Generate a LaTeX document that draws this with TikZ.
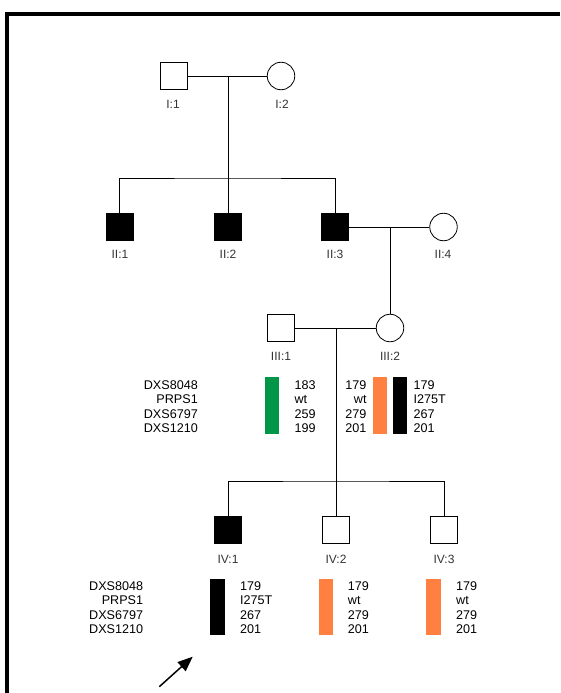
\documentclass[tikz,border=0pt]{standalone}
\usepackage{fontspec}
\setmainfont{Liberation Sans}
\usetikzlibrary{arrows.meta}
\definecolor{hapgreen}{RGB}{0,150,72}
\definecolor{haporange}{RGB}{255,128,64}

\begin{document}
\begin{tikzpicture}[x=1pt, y=-1pt,
  pedline/.style={line width=1pt},
  male/.style={rectangle, draw, line width=0.8pt, minimum size=27pt, inner sep=0pt},
  affected/.style={male, fill=black},
  female/.style={circle, draw, line width=0.8pt, minimum size=27.5pt, inner sep=0pt},
  idlabel/.style={font=\fontsize{12}{14}\selectfont, text=black!80, inner sep=0pt},
  dat/.style={font=\fontsize{12.6}{14}\selectfont, inner sep=0pt},
  bar/.style={rectangle, inner sep=0pt, minimum width=14.5pt, minimum height=56.5pt, anchor=north west}
]
\useasboundingbox (0,0) rectangle (560,693);

% frame along the top and left edges
\draw[line width=4pt, miter limit=10] (7,693) -- (7,14) -- (560,14);

% generation I
\node[male]   (I1) at (173.5,76) {};
\node[female] (I2) at (281,76) {};
\node[idlabel] (lI1) at (173,104) {I:1};
\node[idlabel] (lI2) at (282,104) {I:2};

% generation II
\node[affected] (II1) at (119.5,227) {};
\node[affected] (II2) at (228,227) {};
\node[affected] (II3) at (335,227) {};
\node[female]   (II4) at (443.5,227) {};
\node[idlabel] (lII1) at (120,254) {II:1};
\node[idlabel] (lII2) at (228,254) {II:2};
\node[idlabel] (lII3) at (335,254) {II:3};
\node[idlabel] (lII4) at (443,254) {II:4};

% generation III
\node[male]   (III1) at (281,328) {};
\node[female] (III2) at (390,328) {};
\node[idlabel] (lIII1) at (281,356) {III:1};
\node[idlabel] (lIII2) at (390,356) {III:2};

% generation IV
\node[affected] (IV1) at (228,530) {};
\node[male]     (IV2) at (336,530) {};
\node[male]     (IV3) at (444,530) {};
\node[idlabel] (lIV1) at (228,559) {IV:1};
\node[idlabel] (lIV2) at (336,559) {IV:2};
\node[idlabel] (lIV3) at (444,559) {IV:3};

% mating lines, descent lines and sibships
\coordinate (j1) at (228,76);
\coordinate (s1) at (228,178);
\coordinate (j2) at (390,227);
\coordinate (j3) at (336,328);
\coordinate (s2) at (336,481);
\draw[pedline] (I1.east) -- (I2.west);
\draw[pedline] (j1) -- (s1);
\draw[pedline] (II1.north) |- (s1) -| (II3.north);
\draw[pedline] (s1) -- (II2.north);
\draw[pedline] (II3.east) -- (II4.west);
\draw[pedline] (j2) -- (III2.north);
\draw[pedline] (III1.east) -- (III2.west);
\draw[pedline] (j3) -- (s2);
\draw[pedline] (IV1.north) |- (s2) -| (IV3.north);
\draw[pedline] (s2) -- (IV2.north);

% haplotypes, generation III
\foreach \t [count=\i from 0] in {DXS8048,PRPS1,DXS6797,DXS1210}
  \node[dat, anchor=base east] (mA\i) at (198,{389.5+14.3*\i}) {\t};
\node[bar, fill=hapgreen]  (hIII1) at (264.3,377) {};
\foreach \t [count=\i from 0] in {183,wt,259,199}
  \node[dat, anchor=base west] (aIII1\i) at (294.3,{389.5+14.3*\i}) {\t};
\foreach \t [count=\i from 0] in {179,wt,279,201}
  \node[dat, anchor=base east] (aIII2a\i) at (366.7,{389.5+14.3*\i}) {\t};
\node[bar, fill=haporange] (hIII2a) at (372.3,377) {};
\node[bar, fill=black]     (hIII2b) at (392.7,377) {};
\foreach \t [count=\i from 0] in {179,I275T,267,201}
  \node[dat, anchor=base west] (aIII2b\i) at (413.3,{389.5+14.3*\i}) {\t};

% haplotypes, generation IV
\foreach \t [count=\i from 0] in {DXS8048,PRPS1,DXS6797,DXS1210}
  \node[dat, anchor=base east] (mB\i) at (143.3,{590.3+14.4*\i}) {\t};
\node[bar, fill=black]     (hIV1) at (210,578.3) {};
\node[bar, fill=haporange] (hIV2) at (318.7,578.3) {};
\node[bar, fill=haporange] (hIV3) at (426,578.3) {};
\foreach \t [count=\i from 0] in {179,I275T,267,201}
  \node[dat, anchor=base west] (aIV1\i) at (240,{590.3+14.4*\i}) {\t};
\foreach \t [count=\i from 0] in {179,wt,279,201}
  \node[dat, anchor=base west] (aIV2\i) at (347.7,{590.3+14.4*\i}) {\t};
\foreach \t [count=\i from 0] in {179,wt,279,201}
  \node[dat, anchor=base west] (aIV3\i) at (456,{590.3+14.4*\i}) {\t};

% proband arrow
\coordinate (ptail) at (159.3,686.7);
\coordinate (ptip) at (192.7,656.7);
\draw[line width=1.5pt, -{Triangle[length=15pt,width=12pt]}] (ptail) -- (ptip);
\end{tikzpicture}
\end{document}
